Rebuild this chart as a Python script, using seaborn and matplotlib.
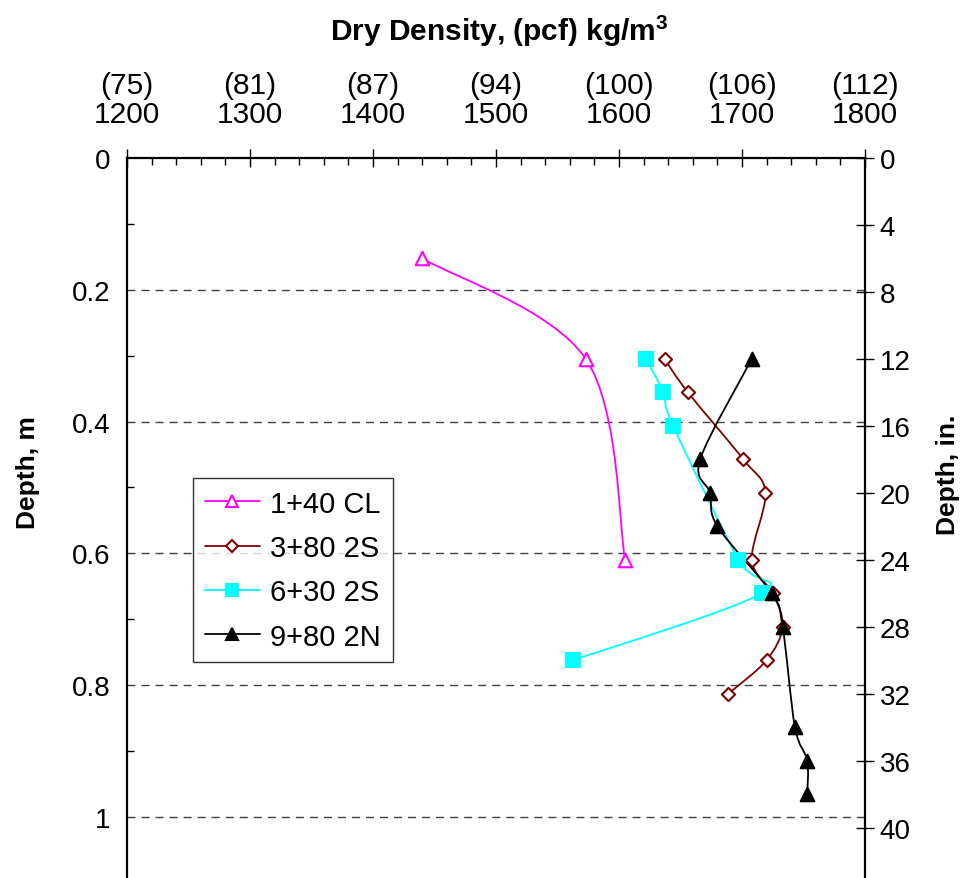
import numpy as np
import pandas as pd
import matplotlib
matplotlib.use("Agg")
import matplotlib.pyplot as plt
import seaborn as sns
from matplotlib.path import Path
from matplotlib.patches import PathPatch
from matplotlib.lines import Line2D
from matplotlib.ticker import MultipleLocator, FixedLocator

# ---------------- data ----------------
IN2M = 0.0254
s1_label = "1+40 CL"
s1_depth_in = [6, 12, 24]
s1_density = [1440, 1573, 1605]

s2_label = "3+80 2S"
s2_depth_in = [12, 14, 18, 20, 24, 26, 28, 30, 32]
s2_density = [1637, 1656, 1701, 1719, 1708, 1725, 1733, 1720, 1689]

s3_label = "6+30 2S"
s3_depth_in = [12, 14, 16, 24, 26, 30]
s3_density = [1622, 1636, 1644, 1697, 1716, 1563]

s4_label = "9+80 2N"
s4_depth_in = [12, 18, 20, 22, 26, 28, 34, 36, 38]
s4_density = [1708, 1666, 1674, 1680, 1724, 1733, 1743, 1753, 1753]

x_ticks = [1200, 1300, 1400, 1500, 1600, 1700, 1800]
x_pcf_labels = ["(75)", "(81)", "(87)", "(94)", "(100)", "(106)", "(112)"]
y_ticks_m = [0, 0.2, 0.4, 0.6, 0.8, 1.0]
y_tick_labels_m = ["0", "0.2", "0.4", "0.6", "0.8", "1"]
y_ticks_in = [0, 4, 8, 12, 16, 20, 24, 28, 32, 36, 40]

series = [
    dict(label=s1_label, d=s1_depth_in, x=s1_density, color="#FF00FF", marker="^", fill="white", s=95),
    dict(label=s2_label, d=s2_depth_in, x=s2_density, color="#800000", marker="D", fill="white", s=45),
    dict(label=s3_label, d=s3_depth_in, x=s3_density, color="#00FFFF", marker="s", fill="#00FFFF", s=110),
    dict(label=s4_label, d=s4_depth_in, x=s4_density, color="#000000", marker="^", fill="#000000", s=95),
]

# ---------------- style ----------------
sns.set_theme(style="white")
plt.rcParams["font.family"] = ["Liberation Sans", "DejaVu Sans"]
plt.rcParams["axes.edgecolor"] = "black"
plt.rcParams["text.color"] = "black"
plt.rcParams["xtick.color"] = "black"
plt.rcParams["ytick.color"] = "black"
plt.rcParams["axes.labelcolor"] = "black"
plt.rcParams["mathtext.fontset"] = "custom"
plt.rcParams["mathtext.rm"] = "Liberation Sans"
plt.rcParams["mathtext.bf"] = "Liberation Sans:bold"

W, H = 961, 879
fig = plt.figure(figsize=(W / 100, H / 100), dpi=100)
ax_l, ax_r, ax_t, ax_b = 127, 865, 159, 879
ax = fig.add_axes([ax_l / W, 1 - ax_b / H, (ax_r - ax_l) / W, (ax_b - ax_t) / H])

YMAX = 1.0926
ax.set_xlim(1200, 1800)
ax.set_ylim(YMAX, 0)


def smooth_path(xs, ys):
    P = np.column_stack([xs, ys]).astype(float)
    n = len(P)
    verts = [P[0]]
    codes = [Path.MOVETO]
    for i in range(n - 1):
        p0 = P[i - 1] if i > 0 else P[i]
        p1 = P[i]
        p2 = P[i + 1]
        p3 = P[i + 2] if i + 2 < n else P[i + 1]
        c1 = p1 + (p2 - p0) / 6.0
        c2 = p2 - (p3 - p1) / 6.0
        verts += [c1, c2, p2]
        codes += [Path.CURVE4] * 3
    return Path(verts, codes)


handles = []
for k, sdef in enumerate(series):
    depth_m = [v * IN2M for v in sdef["d"]]
    df = pd.DataFrame({"density": sdef["x"], "depth": depth_m})
    path = smooth_path(df["density"].values, df["depth"].values)
    ax.add_patch(PathPatch(path, facecolor="none", edgecolor=sdef["color"], lw=1.3, zorder=3 + k))
    sns.scatterplot(data=df, x="density", y="depth", ax=ax, marker=sdef["marker"], s=sdef["s"],
                    color=sdef["fill"], edgecolor=sdef["color"], linewidth=1.5, zorder=10 + k, legend=False)
    handles.append(Line2D([], [], color=sdef["color"], lw=1.3, marker=sdef["marker"],
                          markersize=(sdef["s"] ** 0.5) * 0.85, markerfacecolor=sdef["fill"],
                          markeredgecolor=sdef["color"], markeredgewidth=1.5, label=sdef["label"]))

# grid
ax.yaxis.set_major_locator(FixedLocator(y_ticks_m))
ax.set_yticklabels(y_tick_labels_m)
for yv in y_ticks_m[1:]:
    ax.axhline(yv, color="#404040", lw=1.0, dashes=(5.8, 4.3), zorder=1)
ax.grid(False)

# x on top
ax.xaxis.tick_top()
ax.xaxis.set_label_position("top")
ax.set_xticks(x_ticks)
ax.set_xticklabels([f"{p}\n{v}" for p, v in zip(x_pcf_labels, x_ticks)], linespacing=1.05)
ax.xaxis.set_minor_locator(MultipleLocator(20))
ax.tick_params(axis="x", which="major", top=True, bottom=False, direction="inout", length=13,
               width=1.0, color="black", labelsize=21.5, pad=15)
ax.tick_params(axis="x", which="minor", top=True, bottom=False, direction="in", length=5, width=1.0, color="black")
ax.yaxis.set_minor_locator(MultipleLocator(0.1))
ax.tick_params(axis="y", which="major", left=True, direction="in", length=0, labelsize=20, pad=12)
ax.tick_params(axis="y", which="minor", left=True, direction="in", length=5, width=1.0, color="black")
ax.set_xlabel("")
ax.set_ylabel("")

for sp in ["left", "top"]:
    ax.spines[sp].set_linewidth(1.6)
ax.spines["right"].set_visible(False)
ax.spines["bottom"].set_visible(False)

# right axis in inches
ax2 = ax.twinx()
ax2.set_ylim(YMAX / IN2M, 0)
ax2.set_yticks(y_ticks_in)
ax2.set_yticklabels([str(v) for v in y_ticks_in])
ax2.tick_params(axis="y", which="major", right=True, direction="inout", length=13, width=1.0,
                color="black", labelsize=20, pad=4)
ax2.grid(False)
for sp in ["left", "top", "bottom"]:
    ax2.spines[sp].set_visible(False)
ax2.spines["right"].set_linewidth(1.6)
ax2.set_ylabel("")

# titles
fig.text(499 / W, 1 - 31 / H, r"Dry Density, (pcf) kg/m$^\mathbf{3}$", ha="center", va="center",
         fontsize=21.5, fontweight="bold")
fig.text(28 / W, 1 - 473 / H, "Depth, m", rotation=90, ha="center", va="center", fontsize=19, fontweight="bold")
fig.text(948 / W, 1 - 475 / H, "Depth, in.", rotation=90, ha="center", va="center", fontsize=19, fontweight="bold")

leg = ax.legend(handles=handles, loc="upper left", bbox_to_anchor=(193 / W, 1 - 479 / H),
                bbox_transform=fig.transFigure, fontsize=21, frameon=True, fancybox=False,
                edgecolor="black", handlelength=1.9, handletextpad=0.35, labelspacing=0.56,
                borderpad=0.4, borderaxespad=0)
leg.get_frame().set_linewidth(1.0)
leg.set_zorder(20)
for t in leg.get_texts():
    t.set_color("black")

fig.savefig("out.png", dpi=100, facecolor="white")
